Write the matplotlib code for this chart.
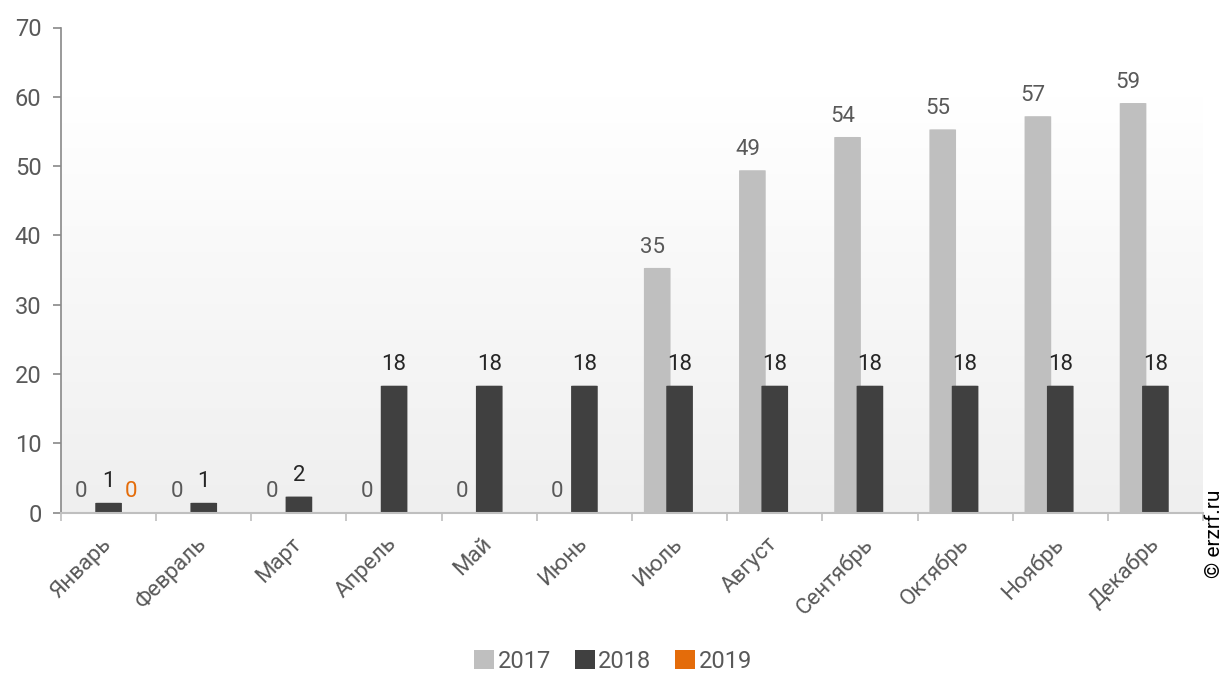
import numpy as np
import matplotlib
matplotlib.use("Agg")
import matplotlib.pyplot as plt
from matplotlib.patches import FancyBboxPatch, Patch

plt.rcParams['font.family'] = ['Roboto', 'DejaVu Sans']

# --- данные ---
months = ["Январь", "Февраль", "Март", "Апрель", "Май", "Июнь",
          "Июль", "Август", "Сентябрь", "Октябрь", "Ноябрь", "Декабрь"]
v2017 = [0, 0, 0, 0, 0, 0, 35.3, 49.4, 54.2, 55.3, 57.2, 59.1]
v2018 = [1.4, 1.4, 2.3, 18.3, 18.3, 18.3, 18.3, 18.3, 18.3, 18.3, 18.3, 18.3]
v2019 = [0]
years = ["2017", "2018", "2019"]

c2017 = "#bfbfbf"
c2018 = "#404040"
c2019 = "#e46c0a"

fig = plt.figure(figsize=(12.26, 6.73), dpi=100)
ax = fig.add_axes([61 / 1226, 1 - 512.5 / 673, (1203 - 61) / 1226, (512.5 - 27.5) / 673])

n = len(months)
x = np.arange(n)
width = 0.28
off = 0.235

# фон с градиентом
grad = np.linspace(0, 1, 256).reshape(-1, 1)
cmap = matplotlib.colors.LinearSegmentedColormap.from_list("bg", ["#efefef", "#ffffff"])
ax.imshow(grad, cmap=cmap, origin="lower", aspect="auto",
          extent=[-0.5, n - 0.5, 0, 60], zorder=0)


def draw_bar(xc, h, color):
    if h <= 0:
        return
    p = FancyBboxPatch((xc - width / 2, 0), width, h,
                       boxstyle="round,pad=0,rounding_size=0.03",
                       mutation_aspect=1.2, facecolor=color,
                       edgecolor="none", zorder=2)
    ax.add_patch(p)


for i in range(n):
    draw_bar(x[i] - off, v2017[i], c2017)
    draw_bar(x[i], v2018[i], c2018)
for i in range(len(v2019)):
    draw_bar(x[i] + off, v2019[i], c2019)

# подписи значений
fs = 16
for i in range(n):
    ax.text(x[i] - off - 0.05, v2017[i] + 1.5, f"{v2017[i]:.0f}", ha="center", va="bottom",
            fontsize=fs, color="#595959", zorder=3)
    ax.text(x[i], v2018[i] + 1.5, f"{v2018[i]:.0f}", ha="center", va="bottom",
            fontsize=fs, color="#262626", zorder=3)
for i in range(len(v2019)):
    ax.text(x[i] + off, v2019[i] + 1.5, f"{v2019[i]:.0f}", ha="center", va="bottom",
            fontsize=fs, color=c2019, zorder=3)

ax.set_xlim(-0.5, n - 0.5)
ax.set_ylim(0, 70)
ax.set_yticks(range(0, 71, 10))
ax.tick_params(axis="y", labelsize=17, labelcolor="#595959", color="#898989",
               length=6, width=1.2, pad=8)

ax.set_xticks(x - 0.08)
ax.set_xticklabels(months, rotation=45, ha="right", rotation_mode="anchor",
                   fontsize=16, color="#595959")
ax.tick_params(axis="x", which="major", length=0, pad=15)
ax.set_xticks(np.arange(-0.5, n, 1), minor=True)
ax.tick_params(axis="x", which="minor", length=6, color="#bfbfbf", width=1.2)

for s in ["top", "right"]:
    ax.spines[s].set_visible(False)
ax.spines["left"].set_color("#898989")
ax.spines["left"].set_linewidth(1.2)
ax.spines["bottom"].set_color("#bfbfbf")
ax.spines["bottom"].set_linewidth(1.5)

handles = [Patch(facecolor=c, edgecolor="none") for c in (c2017, c2018, c2019)]
leg = fig.legend(handles, years, loc="center", bbox_to_anchor=(0.5, 1 - 661 / 673),
                 ncol=3, frameon=False, fontsize=17, handlelength=0.85,
                 handleheight=0.85, handletextpad=0.15, columnspacing=1.0)
for t in leg.get_texts():
    t.set_color("#595959")

fig.text(1214 / 1226, 1 - 534 / 673, "© erzrf.ru", rotation=90, ha="center",
         va="center", fontsize=15, color="black")

fig.savefig("out.png", dpi=100)
